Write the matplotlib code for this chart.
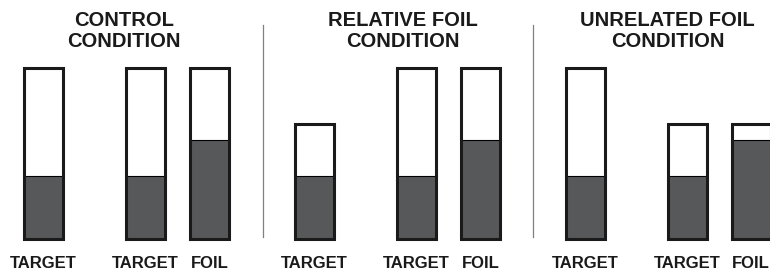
import matplotlib
matplotlib.use("Agg")
import matplotlib.pyplot as plt

plt.rcParams['font.family'] = ['Liberation Sans', 'DejaVu Sans']

# data (heights as fraction of the tallest bar)
conditions = ["CONTROL\nCONDITION", "RELATIVE FOIL\nCONDITION", "UNRELATED FOIL\nCONDITION"]
bar_labels = ["TARGET", "TARGET", "FOIL"]
total_heights = [
    [1.0, 1.0, 1.0],
    [0.67, 1.0, 1.0],
    [1.0, 0.67, 0.67],
]
filled_heights = [
    [0.37, 0.37, 0.58],
    [0.37, 0.37, 0.58],
    [0.37, 0.37, 0.58],
]

# layout (pixel-like x units)
panel_offsets = [0, 271, 541.5]
slot_offsets = [43.5, 145.5, 209.5]
title_x = [124, 403, 667.5]
separators_x = [263, 533]
bar_w = 39
fill_col = '#57585a'

fig = plt.figure(figsize=(7.7, 2.74), dpi=100)
ax = fig.add_axes([0, 0, 1, 1])
ax.set_xlim(0, 770)
ax.set_ylim(-35 / 171, 239 / 171)
ax.axis('off')

for p in range(3):
    xs = [panel_offsets[p] + s for s in slot_offsets]
    ax.bar(xs, filled_heights[p], width=bar_w, color=fill_col,
           edgecolor='black', linewidth=0.8, zorder=2)
    ax.bar(xs, total_heights[p], width=bar_w, facecolor='none',
           edgecolor='#1a1a1a', linewidth=2.2, zorder=3)
    for x, lab in zip(xs, bar_labels):
        ax.text(x, -24 / 171, lab, ha='center', va='center',
                fontsize=12, fontweight='bold', color='#1a1a1a')
    ax.text(title_x[p], 208 / 171, conditions[p], ha='center', va='center',
            fontsize=14.5, fontweight='bold', color='#1a1a1a',
            linespacing=1.1)

for sx in separators_x:
    ax.plot([sx, sx], [2 / 171, 214 / 171], color='#808080', linewidth=0.9)

fig.savefig('out.png', dpi=100)
